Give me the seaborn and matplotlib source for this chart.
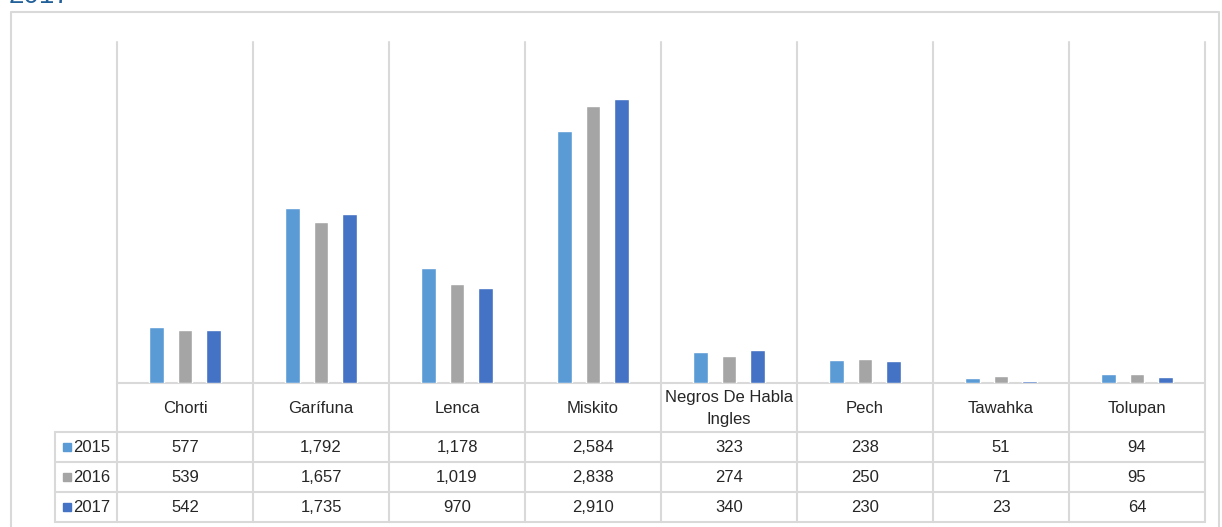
import numpy as np
import pandas as pd
import matplotlib.pyplot as plt
import seaborn as sns

# data
groups = ["Chorti", "Garífuna", "Lenca", "Miskito", "Negros De Habla\nIngles",
          "Pech", "Tawahka", "Tolupan"]
years = ["2015", "2016", "2017"]
v2015 = [577, 1792, 1178, 2584, 323, 238, 51, 94]
v2016 = [539, 1657, 1019, 2838, 274, 250, 71, 95]
v2017 = [542, 1735, 970, 2910, 340, 230, 23, 64]
colors = ["#5B9BD5", "#A5A5A5", "#4472C4"]

df = pd.DataFrame({
    "Grupo": groups * 3,
    "Año": np.repeat(years, len(groups)),
    "Valor": v2015 + v2016 + v2017,
})

sns.set_style("white")
plt.rcParams["font.family"] = ["Liberation Sans Narrow", "Liberation Sans", "DejaVu Sans"]

W, H = 1222, 527
grid = "#D9D9D9"
fig = plt.figure(figsize=(W / 100, H / 100), dpi=100)

# plot area in pixels
x0, x1, ytop, ybase = 117, 1205, 42, 383
ax = fig.add_axes([x0 / W, 1 - ybase / H, (x1 - x0) / W, (ybase - ytop) / H])
sns.barplot(data=df, x="Grupo", y="Valor", hue="Año", palette=colors,
            width=0.62, gap=0.47, ax=ax, legend=False, saturation=1)
ax.set_xlim(-0.5, len(groups) - 0.5)
ax.set_ylim(0, 3500)
ax.set_xticks([])
ax.set_yticks([])
ax.set_xlabel("")
ax.set_ylabel("")
for s in ax.spines.values():
    s.set_visible(False)
ax.patch.set_alpha(0)

# overlay in pixel coords for frame + data table
tab = fig.add_axes([0, 0, 1, 1], zorder=-1)
tab.set_xlim(0, W)
tab.set_ylim(H, 0)
tab.axis("off")

lw = 1.5
tab.plot([11, 11, 1219, 1219], [540, 12, 12, 540], color=grid, lw=lw)

cw = (x1 - x0) / len(groups)
rows = [432, 462, 492, 522]
for i in range(len(groups) + 1):
    xx = x0 + i * cw
    tab.plot([xx, xx], [ytop, rows[-1]], color=grid, lw=lw)
tab.plot([x0, x1], [ybase, ybase], color=grid, lw=lw)
for r in rows:
    tab.plot([55, x1], [r, r], color=grid, lw=lw)
tab.plot([55, 55], [rows[0], rows[-1]], color=grid, lw=lw)

fs = 12
for i, g in enumerate(groups):
    cx = x0 + (i + 0.5) * cw
    tab.text(cx, (ybase + rows[0]) / 2 + 1, g, ha="center", va="center",
             fontsize=fs, linespacing=1.6)
    for j, vals in enumerate([v2015, v2016, v2017]):
        tab.text(cx, (rows[j] + rows[j + 1]) / 2 + 1, f"{vals[i]:,}",
                 ha="center", va="center", fontsize=fs)

for j, y in enumerate(years):
    cy = (rows[j] + rows[j + 1]) / 2
    tab.add_patch(plt.Rectangle((63, cy - 4), 8, 8, color=colors[j]))
    tab.text(73, cy + 1, y, ha="left", va="center", fontsize=fs)

# title, cut off by the top edge as in the source screenshot
tab.text(9, 3, "2017", color="#22609A", fontsize=20, va="baseline", clip_on=False)

fig.savefig("out.png", dpi=100)
